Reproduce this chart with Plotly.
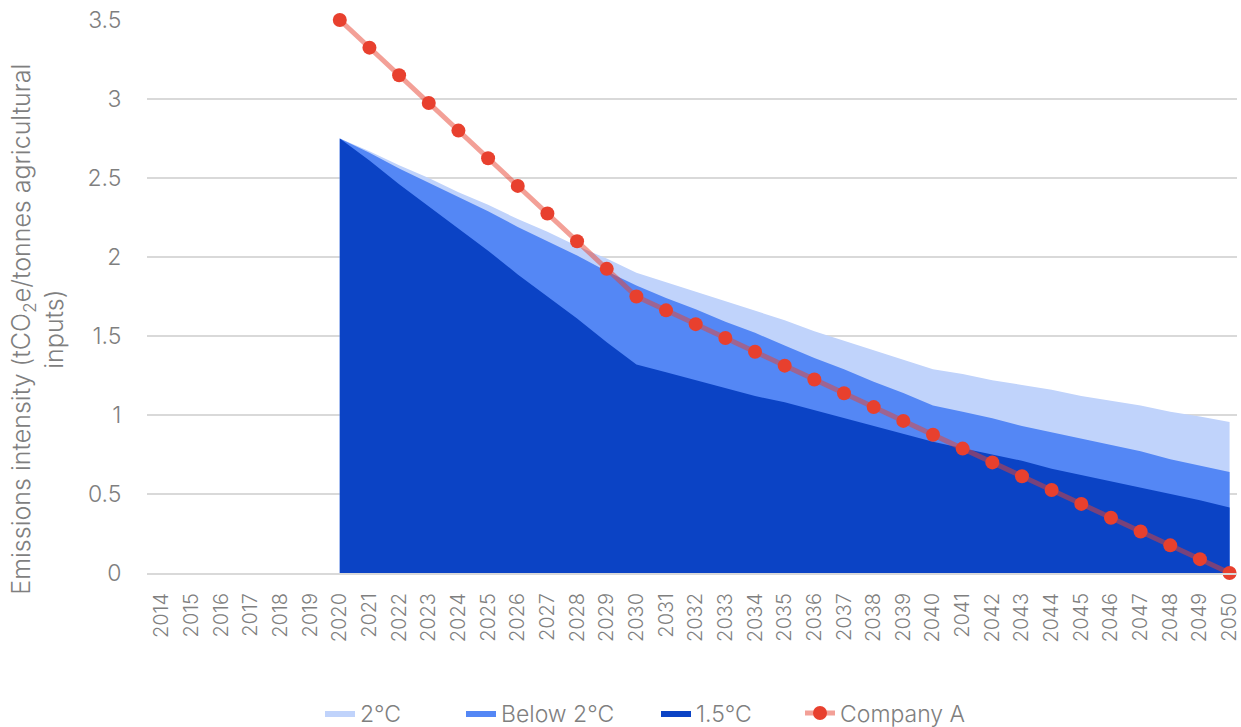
import plotly.graph_objects as go

# Years on the category axis
years = [str(y) for y in range(2014, 2051)]

# Pathway benchmarks (tCO2e / tonnes agricultural inputs); no values before 2020
pad = [None] * 6
two_deg = pad + [2.75, 2.67, 2.58, 2.50, 2.41, 2.33, 2.24, 2.16, 2.07, 1.99, 1.90,
                 1.84, 1.78, 1.72, 1.66, 1.60, 1.53, 1.47, 1.41, 1.35, 1.29,
                 1.26, 1.22, 1.19, 1.16, 1.12, 1.09, 1.06, 1.02, 0.99, 0.955]
below_two = pad + [2.75, 2.66, 2.56, 2.47, 2.38, 2.29, 2.19, 2.10, 2.01, 1.91, 1.82,
                   1.74, 1.67, 1.59, 1.52, 1.44, 1.36, 1.29, 1.21, 1.14, 1.06,
                   1.02, 0.98, 0.93, 0.89, 0.85, 0.81, 0.77, 0.72, 0.68, 0.64]
one_five = pad + [2.75, 2.61, 2.46, 2.32, 2.18, 2.04, 1.89, 1.75, 1.61, 1.46, 1.32,
                  1.27, 1.22, 1.17, 1.12, 1.08, 1.03, 0.98, 0.93, 0.88, 0.83,
                  0.79, 0.75, 0.71, 0.66, 0.62, 0.58, 0.54, 0.50, 0.46, 0.415]
company_a = pad + [3.5, 3.325, 3.15, 2.975, 2.8, 2.625, 2.45, 2.275, 2.1, 1.925, 1.75,
                   1.6625, 1.575, 1.4875, 1.4, 1.3125, 1.225, 1.1375, 1.05, 0.9625, 0.875,
                   0.7875, 0.7, 0.6125, 0.525, 0.4375, 0.35, 0.2625, 0.175, 0.0875, 0.0]

y_ticks = [0, 0.5, 1, 1.5, 2, 2.5, 3, 3.5]
y_tick_text = ["0", "0.5", "1", "1.5", "2", "2.5", "3", "3.5"]

FONT = "Inter"
WT = 300
GREY = "#7f7f7f"
W, H = 1241, 727

# one legend box per entry so each can sit at its own spot along the bottom
legend_left_px = [320, 461, 656, 800]
legend_names = ["legend", "legend2", "legend3", "legend4"]

fig = go.Figure()

area_specs = [
    ("2°C", two_deg, "#C0D3FB"),
    ("Below 2°C", below_two, "#5487F5"),
    ("1.5°C", one_five, "#0B43C5"),
]
for i, (name, vals, col) in enumerate(area_specs):
    fig.add_trace(go.Scatter(
        x=years, y=vals, name=name, mode="lines",
        line=dict(width=0, color=col), fill="tozeroy", fillcolor=col,
        hoverinfo="skip", legend=legend_names[i],
    ))

fig.add_trace(go.Scatter(
    x=years, y=company_a, name="Company A", mode="lines+markers",
    line=dict(color="rgba(232,65,47,0.5)", width=5),
    marker=dict(color="#E8402E", size=14, line=dict(width=0)),
    cliponaxis=False, legend=legend_names[3],
))

legend_common = dict(
    orientation="h", xref="container", yref="container",
    xanchor="left", yanchor="middle", y=1 - 713 / H,
    font=dict(family=FONT, color=GREY, size=23, weight=WT),
    bgcolor="rgba(0,0,0,0)",
)
legend_layout = {
    nm: dict(legend_common, x=px / W) for nm, px in zip(legend_names, legend_left_px)
}

fig.update_layout(
    width=W, height=H,
    margin=dict(l=147, r=0, t=20, b=154),
    paper_bgcolor="white", plot_bgcolor="white",
    font=dict(family=FONT, color=GREY, size=20, weight=WT),
    showlegend=True,
    xaxis=dict(
        type="category", range=[-0.5, 36.25],
        showgrid=False, showline=True, linecolor="#D9D9D9", linewidth=2,
        tickangle=-90, ticks="outside", ticklen=10, tickcolor="rgba(0,0,0,0)",
        tickfont=dict(family=FONT, color=GREY, size=20, weight=WT),
        zeroline=False, fixedrange=True,
    ),
    yaxis=dict(
        range=[0, 3.5], tickvals=y_ticks, ticktext=y_tick_text,
        showgrid=True, gridcolor="#D9D9D9", gridwidth=1.5,
        showline=False, zeroline=False,
        ticks="outside", ticklen=20, tickcolor="rgba(0,0,0,0)",
        tickfont=dict(family=FONT, color=GREY, size=23, weight=WT),
    ),
    annotations=[dict(
        text="Emissions intensity (tCO<sub>2</sub>e/tonnes agricultural<br>inputs)",
        xref="paper", yref="paper", x=-0.100, y=0.44,
        xanchor="center", yanchor="middle", textangle=-90, showarrow=False,
        font=dict(family=FONT, color=GREY, size=25, weight=WT),
    )],
    **legend_layout,
)

fig.write_html("out.html")
